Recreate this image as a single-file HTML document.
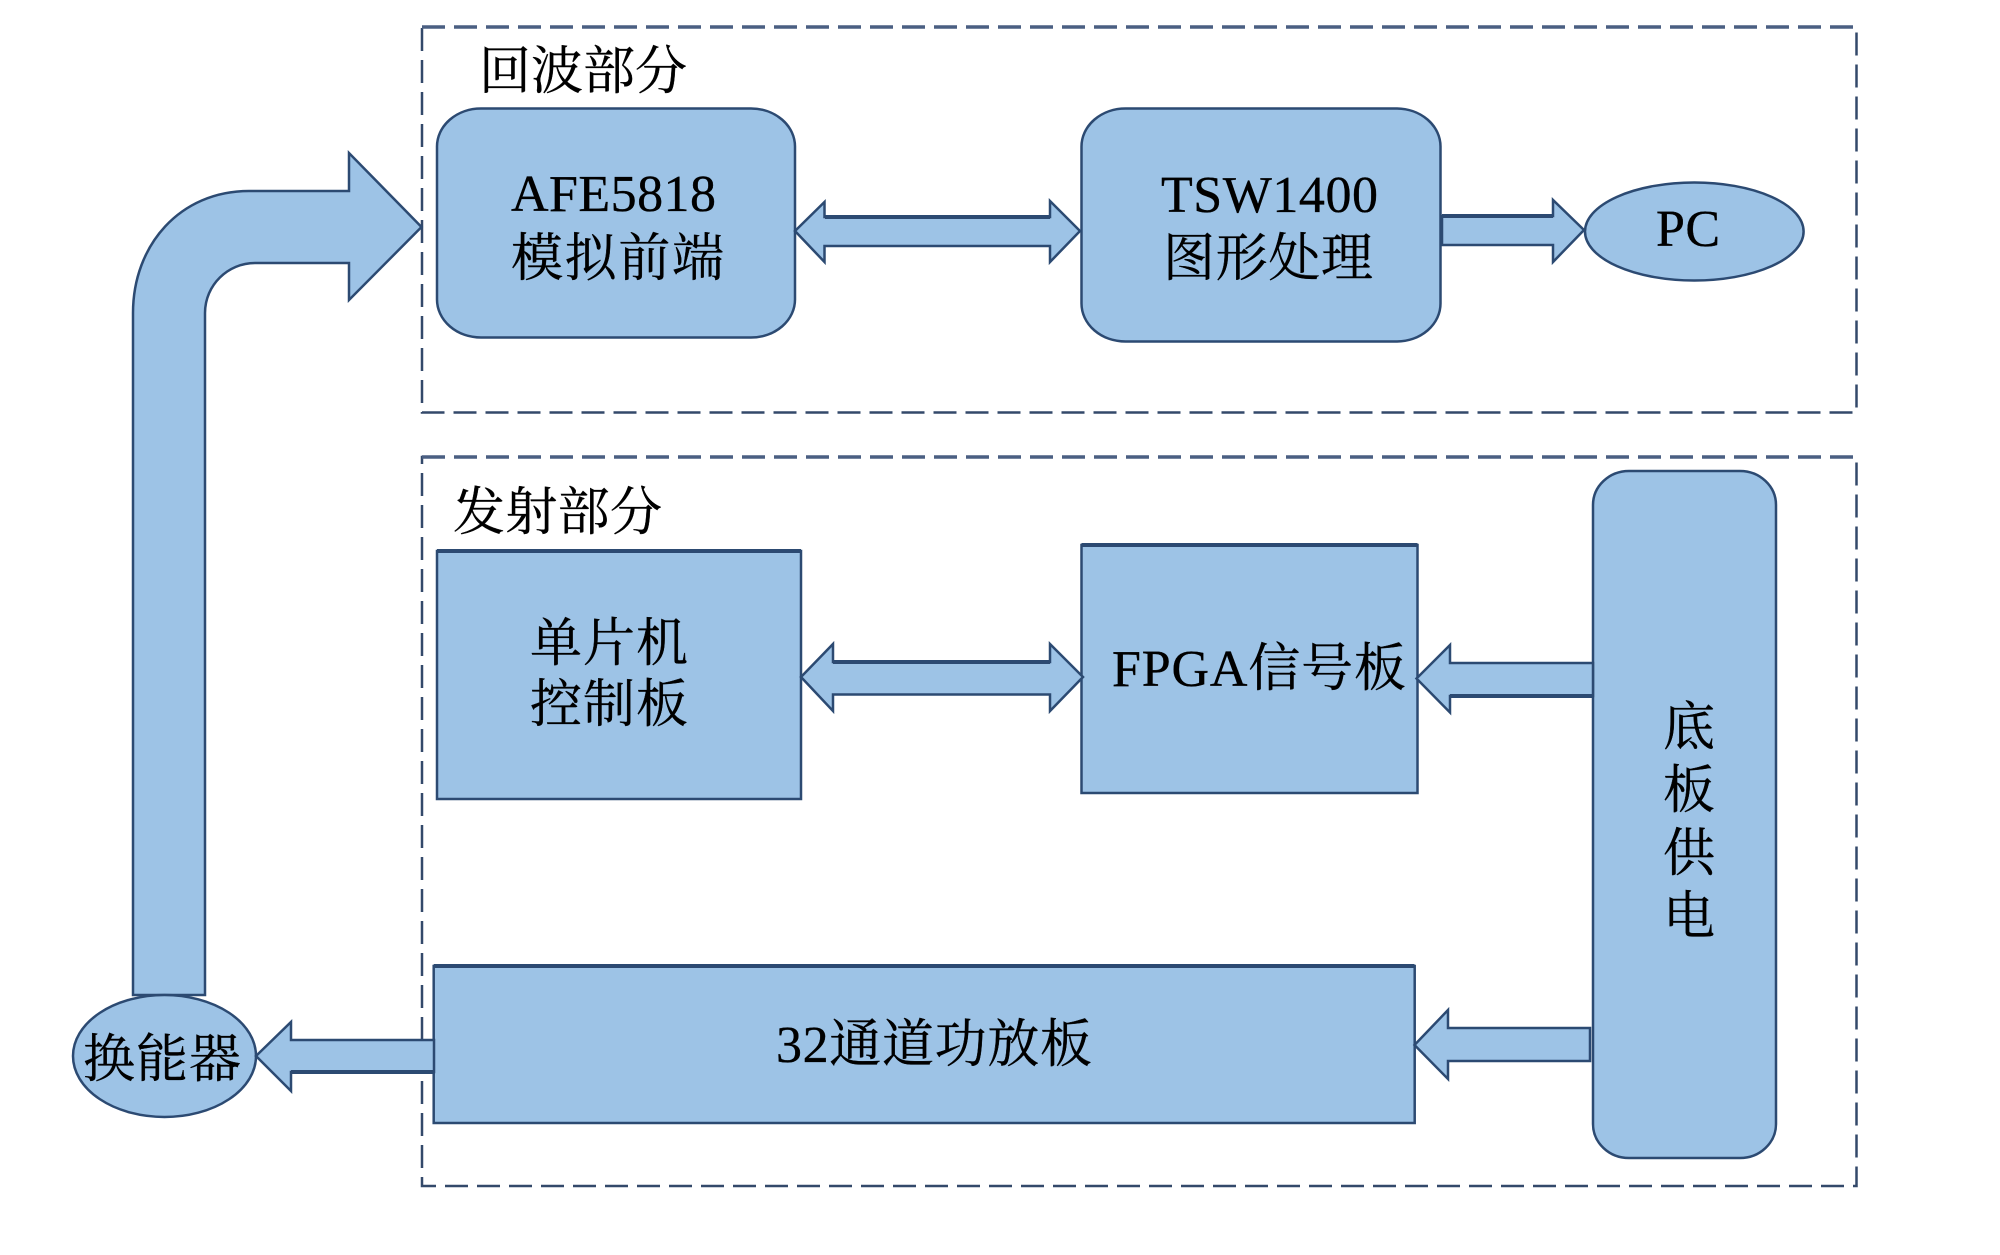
<!DOCTYPE html>
<html><head><meta charset="utf-8"><style>
html,body{margin:0;padding:0;background:#fff}
svg{display:block}
text{font-family:"Liberation Serif","Noto Serif CJK SC",serif;font-size:52px;fill:#000;stroke:#000;stroke-width:.35}
.s{fill:#9dc3e6;stroke:#2c4a72;stroke-width:2.5;stroke-linejoin:miter}
.t{fill:none;stroke:#2c4a72;stroke-width:4}
.d{fill:none;stroke:#33496a;stroke-width:2.5;stroke-dasharray:23 9}
</style></head><body>
<svg width="2000" height="1255" viewBox="0 0 2000 1255" xmlns="http://www.w3.org/2000/svg">
<rect width="2000" height="1255" fill="#fff"/>
<rect class="d" x="422" y="27" width="1434.500" height="385.500"/>
<rect class="d" x="422" y="457" width="1434.500" height="729"/>
<path d="M422 27H1856M422 457H1856" fill="none" stroke="#4a5f82" stroke-width="3.500" stroke-dasharray="23 9"/>

<path class="s" d="M133 995V313C133 245 180 191 249 191H349V153L421.500 227L349 300V263H255C228 263 205 285 205 313V995Z"/>

<rect class="s" x="437" y="108.500" width="358" height="229" rx="44" ry="38"/>
<rect class="s" x="1081.500" y="108.500" width="359" height="233" rx="44" ry="38"/>
<ellipse class="s" cx="1694.300" cy="231.500" rx="109.300" ry="49"/>
<rect class="s" x="437" y="551" width="364" height="248"/>
<rect class="s" x="1081.500" y="545" width="336" height="248"/>
<rect class="s" x="433.700" y="966" width="981" height="157"/>
<rect class="s" x="1593" y="471" width="183" height="687" rx="36" ry="34"/>
<ellipse class="s" cx="164.500" cy="1056" rx="91.500" ry="61"/>
<path class="t" d="M437 551H801M1081.500 545H1417.500M433.700 966H1414.500"/>

<path class="s" d="M795 231L824.500 202V217H1050V201L1080 231L1050 262V246H824.500V262Z"/>
<path class="s" d="M1442 216H1553V200L1584 230L1553 262V245H1442Z"/>
<path class="s" d="M801 677L833 644V662H1050V644L1083 677L1050 711V694.500H833V711Z"/>
<path class="s" d="M1593 663H1450V645L1416.500 678.500L1450 712.500V696H1593Z"/>
<path class="s" d="M1590 1028H1448V1010L1414.500 1045L1448 1079V1061H1590Z"/>
<path class="s" d="M434 1040H291V1022L256 1056L291 1091V1072H434Z"/>
<path class="t" d="M825 217H1050M1442 216H1553M833 662H1050M1450 696H1593M291 1072H434"/>

<text x="479" y="89" textLength="208">回波部分</text>
<text x="511" y="211" textLength="205">AFE5818</text>
<text x="511" y="276" textLength="213">模拟前端</text>
<text x="1161" y="212" textLength="217">TSW1400</text>
<text x="1163" y="276" textLength="210">图形处理</text>
<text x="1656" y="246" textLength="64">PC</text>
<text x="453" y="530" textLength="209">发射部分</text>
<text x="530" y="661" textLength="158">单片机</text>
<text x="530" y="722" textLength="158">控制板</text>
<text x="1112" y="686" textLength="294">FPGA信号板</text>
<text x="776" y="1062" textLength="316">32通道功放板</text>
<text x="83" y="1077" textLength="158">换能器</text>
<text x="1663" y="745">底</text>
<text x="1663" y="808">板</text>
<text x="1663" y="871">供</text>
<text x="1663" y="934">电</text>
</svg>
</body></html>
